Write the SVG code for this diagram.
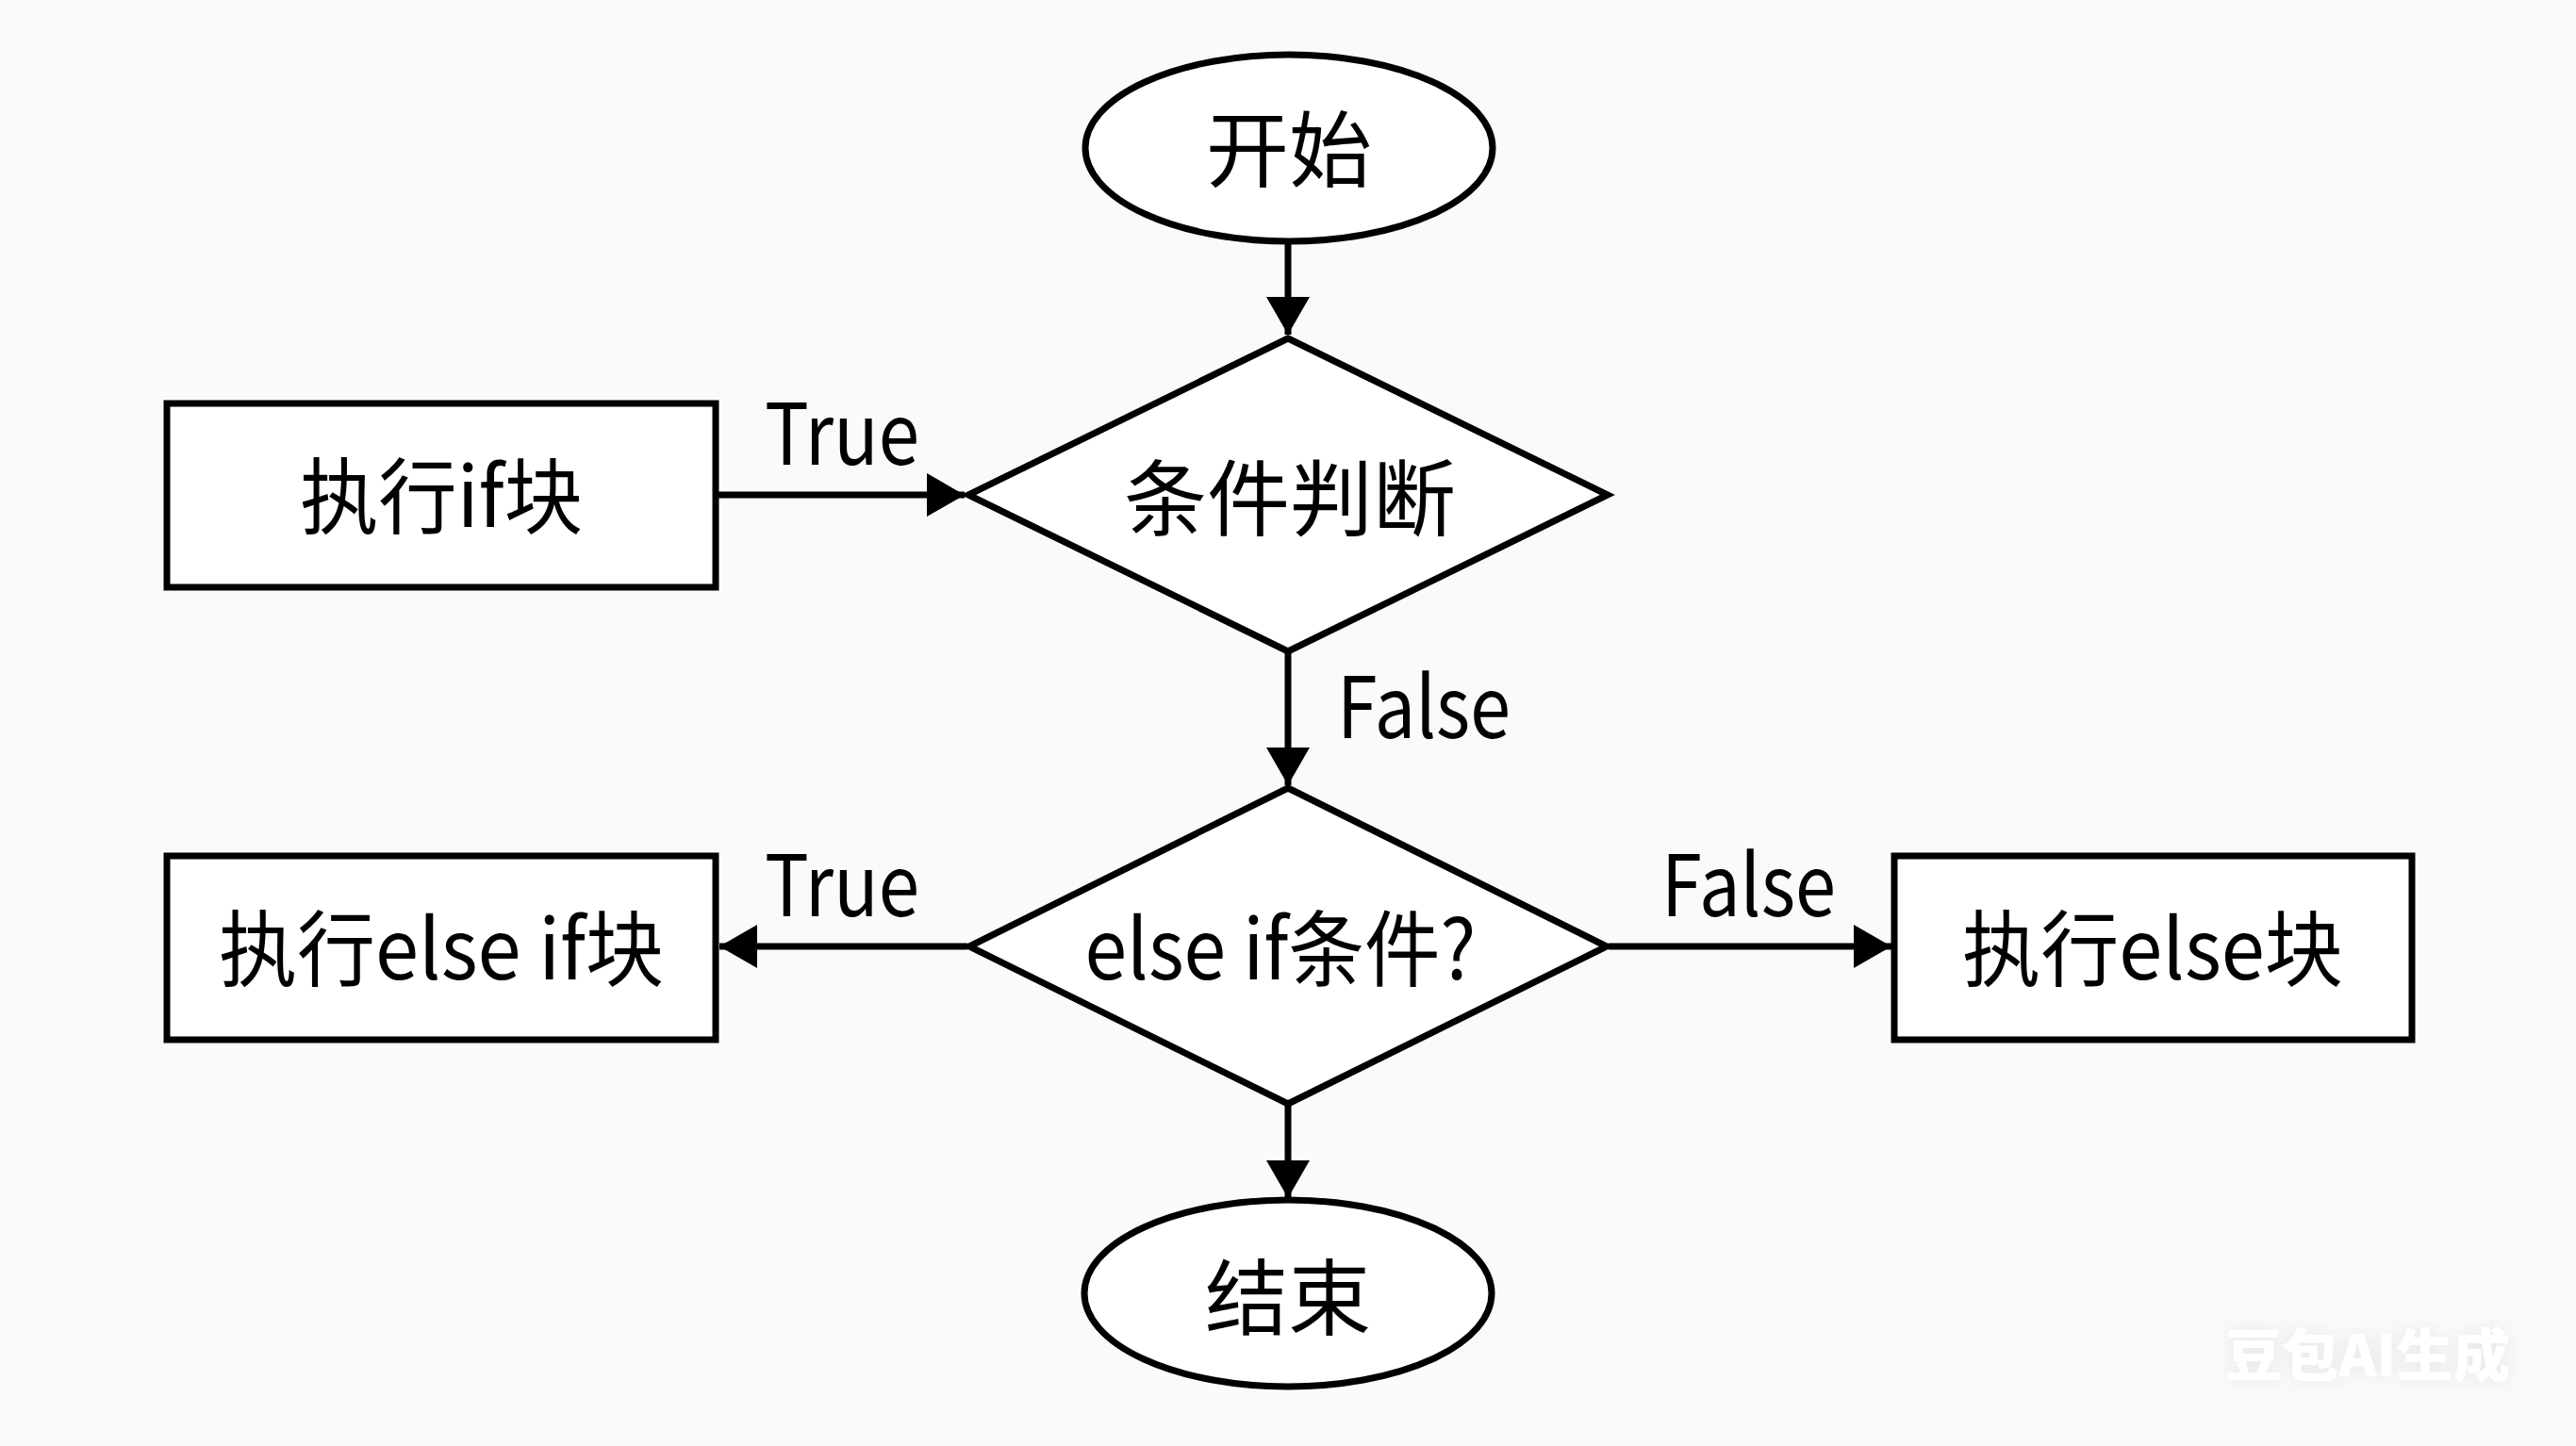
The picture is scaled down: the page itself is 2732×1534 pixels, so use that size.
<svg xmlns="http://www.w3.org/2000/svg" width="2732" height="1534" viewBox="0 0 2732 1534">
  <style>
    .shape { fill: #ffffff; stroke: #000000; stroke-width: 7; stroke-linejoin: miter; }
    .label { font-family: "Noto Sans CJK SC", "Liberation Sans", sans-serif; font-size: 88px; fill: #000000; text-anchor: middle; }
    .edge-label { font-family: "Noto Sans CJK SC", "Liberation Sans", sans-serif; font-size: 90px; fill: #000000; }
    .conn { fill: none; stroke: #000000; stroke-width: 7; marker-end: url(#arrow); }
    .wm { font-family: "Noto Sans CJK SC", sans-serif; font-size: 60px; font-weight: 900; fill: #ffffff; }
  </style>
  <defs>
    <marker id="arrow" markerUnits="userSpaceOnUse" markerWidth="42" markerHeight="48" refX="40" refY="23" orient="auto">
      <path d="M0,0 L40,23 L0,46 Z" fill="#000000"/>
    </marker>
    <filter id="wmShadow" x="-20%" y="-40%" width="140%" height="180%">
      <feGaussianBlur in="SourceAlpha" stdDeviation="10" result="b"/>
      <feFlood flood-color="#000000" flood-opacity="0.08"/>
      <feComposite in2="b" operator="in" result="s"/>
      <feMerge><feMergeNode in="s"/><feMergeNode in="SourceGraphic"/></feMerge>
    </filter>
  </defs>
  <rect x="0" y="0" width="2732" height="1534" fill="#fafaf8"/>

  <g id="connectors">
    <line class="conn" x1="1366" y1="257" x2="1366" y2="355"/>
    <line class="conn" x1="761" y1="525" x2="1023" y2="525"/>
    <line class="conn" x1="1366" y1="692" x2="1366" y2="833"/>
    <line class="conn" x1="1026" y1="1004" x2="763" y2="1004"/>
    <line class="conn" x1="1706" y1="1004" x2="2006" y2="1004"/>
    <line class="conn" x1="1366" y1="1172" x2="1366" y2="1271"/>
    <text class="edge-label" x="811" y="493" textLength="164" lengthAdjust="spacingAndGlyphs">True</text>
    <text class="edge-label" x="1418" y="783" textLength="184" lengthAdjust="spacingAndGlyphs">False</text>
    <text class="edge-label" x="811" y="972" textLength="164" lengthAdjust="spacingAndGlyphs">True</text>
    <text class="edge-label" x="1762" y="972" textLength="185" lengthAdjust="spacingAndGlyphs">False</text>
  </g>

  <g id="start">
    <ellipse class="shape" cx="1367" cy="157" rx="216" ry="99"/>
    <text class="label" x="1367" y="191">开始</text>
  </g>

  <g id="cond1">
    <polygon class="shape" points="1366,359 1705,525 1366,691 1027,525"/>
    <text class="label" x="1368" y="561">条件判断</text>
  </g>

  <g id="ifBlock">
    <rect class="shape" x="177" y="428" width="582" height="195"/>
    <text class="label" x="468" y="559" textLength="300" lengthAdjust="spacingAndGlyphs">执行if块</text>
  </g>

  <g id="cond2">
    <polygon class="shape" points="1366,836 1704,1004 1366,1171 1028,1004"/>
    <text class="label" x="1358" y="1039" textLength="415" lengthAdjust="spacingAndGlyphs">else if条件?</text>
  </g>

  <g id="elseIfBlock">
    <rect class="shape" x="177" y="908" width="582" height="195"/>
    <text class="label" x="468" y="1039" textLength="472" lengthAdjust="spacingAndGlyphs">执行else if块</text>
  </g>

  <g id="elseBlock">
    <rect class="shape" x="2009" y="908" width="549" height="195"/>
    <text class="label" x="2283" y="1039" textLength="404" lengthAdjust="spacingAndGlyphs">执行else块</text>
  </g>

  <g id="end">
    <ellipse class="shape" cx="1366" cy="1372" rx="216" ry="99"/>
    <text class="label" x="1366" y="1409">结束</text>
  </g>

  <text class="wm" x="2360" y="1460" textLength="302" lengthAdjust="spacingAndGlyphs" filter="url(#wmShadow)">豆包AI生成</text>
</svg>
